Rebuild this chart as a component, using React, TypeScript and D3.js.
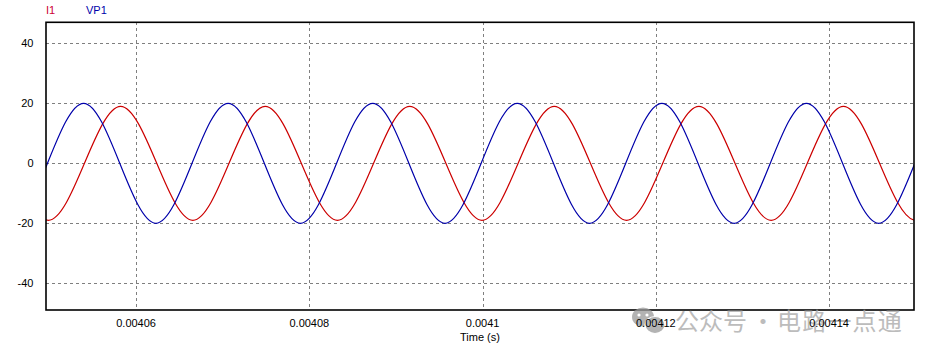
import React from "react";
import * as d3 from "d3";

// ---- data (seconds, amplitude) ----
const vp1Times = [
  0.004041426, 0.004045598, 0.00404977, 0.004053942, 0.004058114, 0.004062286,
  0.004066458, 0.00407063, 0.004074802, 0.004078974, 0.004083146, 0.004087318,
  0.00409149, 0.004095662, 0.004099834, 0.004104006, 0.004108178, 0.00411235,
  0.004116522, 0.004120694, 0.004124866, 0.004129038, 0.00413321, 0.004137382,
  0.004141554, 0.004145726, 0.004149898, 0.00415407, 0.004158242,
];
const vp1Values = [
  0, -20, 0, 20, 0, -20, 0, 20, 0, -20, 0, 20, 0, -20, 0, 20, 0, -20, 0, 20, 0,
  -20, 0, 20, 0, -20, 0, 20, 0,
];
const i1Times = [
  0.004045696, 0.004049868, 0.00405404, 0.004058212, 0.004062384, 0.004066556,
  0.004070728, 0.0040749, 0.004079072, 0.004083244, 0.004087416, 0.004091588,
  0.00409576, 0.004099932, 0.004104104, 0.004108276, 0.004112448, 0.00411662,
  0.004120792, 0.004124964, 0.004129136, 0.004133308, 0.00413748, 0.004141652,
  0.004145824, 0.004149996, 0.004154168,
];
const i1Values = [
  0, -19, 0, 19, 0, -19, 0, 19, 0, -19, 0, 19, 0, -19, 0, 19, 0, -19, 0, 19, 0,
  -19, 0, 19, 0, -19, 0,
];
const xTicks = [0.00406, 0.00408, 0.0041, 0.00412, 0.00414];
const xTickLabels = ["0.00406", "0.00408", "0.0041", "0.00412", "0.00414"];
const yTicks = [-40, -20, 0, 20, 40];
const yTickLabels = ["-40", "-20", "0", "20", "40"];
const seriesNames = ["I1", "VP1"];

const W = 934;
const H = 359;
const L = 46;
const R = 914;
const T = 22.3;
const B = 310;
const FONT = "'Liberation Sans', Arial, sans-serif";

export default function App() {
  const x = d3.scaleLinear().domain([0.0040496, 0.0041498]).range([L, R]);
  const y = d3.scaleLinear().domain([-48.9, 47]).range([B, T]);
  const line = d3
    .line<[number, number]>()
    .x((d) => x(d[0]))
    .y((d) => y(d[1]))
    .curve(d3.curveNatural);
  const vp1 = vp1Times.map((t, i) => [t, vp1Values[i]] as [number, number]);
  const i1 = i1Times.map((t, i) => [t, i1Values[i]] as [number, number]);
  const snap = (v: number) => Math.round(v) + 0.5;

  return (
    <div style={{ position: "absolute", left: 0, top: 0 }}>
      <svg width={W} height={H} style={{ display: "block", background: "#fff" }}>
        <rect x={0} y={0} width={W} height={H} fill="#fff" />
        <defs>
          <clipPath id="plot">
            <rect x={L} y={T} width={R - L} height={B - T} />
          </clipPath>
        </defs>
        {/* grid */}
        <g stroke="#7f7f7f" strokeWidth={1} strokeDasharray="3,3" shapeRendering="crispEdges">
          {yTicks.map((v) => (
            <line key={"gy" + v} x1={L} x2={R} y1={snap(y(v))} y2={snap(y(v))} />
          ))}
          {xTicks.map((v) => (
            <line key={"gx" + v} x1={snap(x(v))} x2={snap(x(v))} y1={T} y2={B} />
          ))}
        </g>
        {/* curves */}
        <g clipPath="url(#plot)" fill="none" strokeWidth={1.2}>
          <path d={line(i1) || ""} stroke="#cc0000" />
          <path d={line(vp1) || ""} stroke="#0000aa" />
        </g>
        {/* frame */}
        <rect x={L} y={T} width={R - L} height={B - T} fill="none" stroke="#000" strokeWidth={1.6} />
        {/* legend */}
        <text x={46} y={14} fontFamily={FONT} fontSize={11} fill="#cc0033">
          {seriesNames[0]}
        </text>
        <text x={86} y={14} fontFamily={FONT} fontSize={11} fill="#0000aa">
          {seriesNames[1]}
        </text>
        {/* watermark */}
        <g opacity={0.75}>
          <ellipse cx={643} cy={317} rx={11} ry={9.5} fill="#9a9a9a" />
          <ellipse cx={655} cy={325} rx={10} ry={8.5} fill="#9a9a9a" stroke="#fff" strokeWidth={1.2} />
          <circle cx={639} cy={315} r={1.6} fill="#fff" />
          <circle cx={647} cy={315} r={1.6} fill="#fff" />
          <circle cx={652} cy={324} r={1.3} fill="#fff" />
          <circle cx={659} cy={324} r={1.3} fill="#fff" />
          <text x={675} y={330} fontFamily="'Noto Sans CJK SC', sans-serif" fontSize={24} fill="#a6a6a6">
            公众号
          </text>
          <text x={763} y={330} textAnchor="middle" fontFamily="'Noto Sans CJK SC', sans-serif" fontSize={24} fill="#a6a6a6">
            ·
          </text>
          <text x={777} y={330} fontFamily="'Noto Sans CJK SC', sans-serif" fontSize={24} fill="#a6a6a6" letterSpacing={1.2}>
            电路一点通
          </text>
        </g>
        {/* y tick labels */}
        {yTicks.map((v, i) => (
          <text key={"yl" + v} x={33.5} y={y(v) + 4} textAnchor="end" fontFamily={FONT} fontSize={11} fill="#000">
            {yTickLabels[i]}
          </text>
        ))}
        {/* x tick labels */}
        {xTicks.map((v, i) => (
          <text key={"xl" + v} x={x(v)} y={327} textAnchor="middle" fontFamily={FONT} fontSize={11} fill="#000">
            {xTickLabels[i]}
          </text>
        ))}
        <text x={(L + R) / 2} y={341} textAnchor="middle" fontFamily={FONT} fontSize={11} fill="#000">
          Time (s)
        </text>
      </svg>
    </div>
  );
}
